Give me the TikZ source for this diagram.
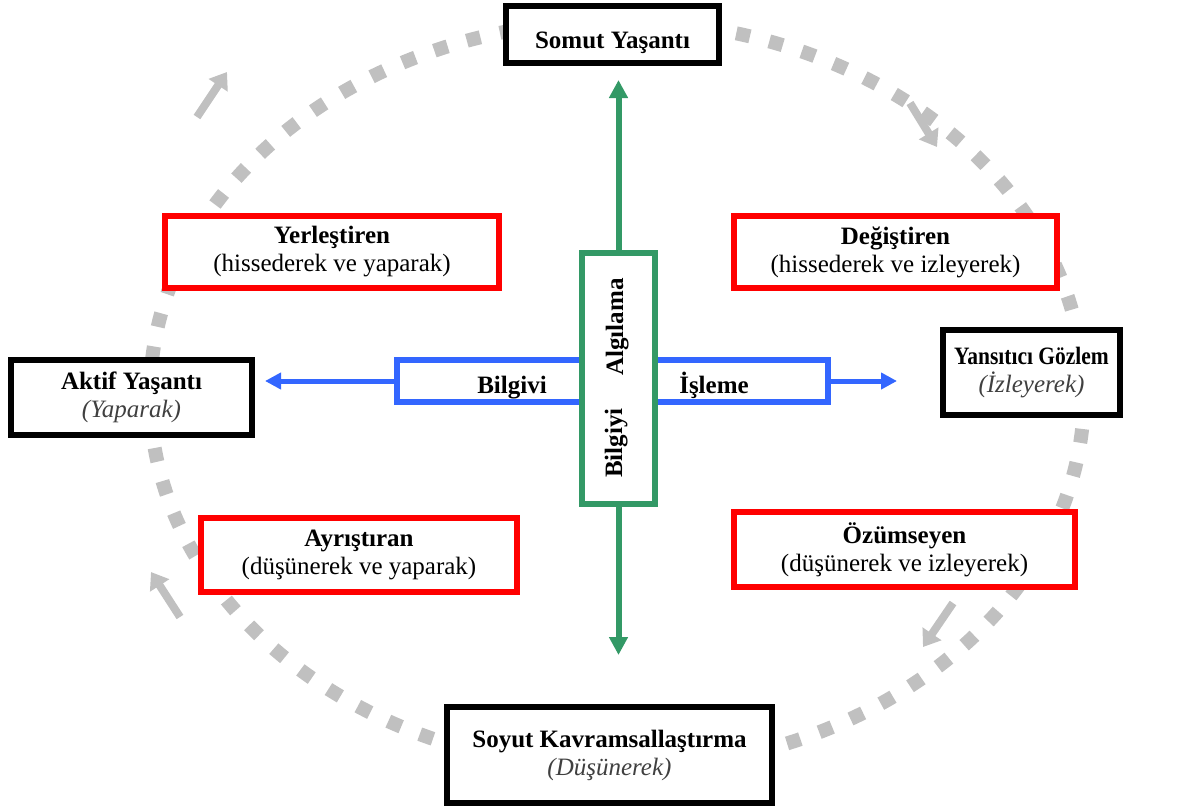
\documentclass[tikz,border=0pt]{standalone}
\usepackage{fontspec}
\setmainfont{Liberation Serif}
\usetikzlibrary{arrows.meta}
\definecolor{cgreen}{RGB}{51,153,102}
\definecolor{cblue}{RGB}{51,102,255}
\definecolor{cgray}{RGB}{192,192,192}
\definecolor{cred}{RGB}{255,0,0}
\begin{document}
\begin{tikzpicture}[x=0.5pt,y=-0.5pt,
  every node/.style={font=\fontsize{12.5}{14}\selectfont},
  blackbox/.style={draw=black,line width=3pt,fill=white,align=center,inner sep=0pt},
  redbox/.style={draw=cred,line width=3pt,fill=white,align=center,inner sep=0pt},
  gcirc/.style={draw=cgray,line width=7pt,dash pattern=on 7pt off 10pt},
  garrow/.style={draw=cgray,line width=4pt,-{Triangle[width=11pt,length=8pt]}},
  greenarrow/.style={draw=cgreen,line width=3pt,-{Triangle[width=9pt,length=9pt]}},
  bluearrow/.style={draw=cblue,line width=2.5pt,-{Triangle[width=8pt,length=8pt]}},
  bluebox/.style={draw=cblue,line width=3pt,fill=white,inner sep=0pt},
  greenbox/.style={draw=cgreen,line width=3pt,fill=white,inner sep=0pt},
  lbl/.style={font=\fontsize{12.5}{14}\selectfont\bfseries}
]
\useasboundingbox (0,0) rectangle (1178,809);
% cycle
\draw[gcirc] (617,395) ellipse [x radius=467, y radius=374];
\coordinate (ga1s) at (197,117); \coordinate (ga1e) at (227,72);
\coordinate (ga2s) at (910,103); \coordinate (ga2e) at (937,147);
\coordinate (ga3s) at (953,603); \coordinate (ga3e) at (923,647);
\coordinate (ga4s) at (180,617); \coordinate (ga4e) at (151,572);
\draw[garrow] (ga1s) -- (ga1e);
\draw[garrow] (ga2s) -- (ga2e);
\draw[garrow] (ga3s) -- (ga3e);
\draw[garrow] (ga4s) -- (ga4e);
% center boxes
\node[bluebox,minimum width=215.5pt,minimum height=21pt] (bb) at (612.5,381) {};
\node[greenbox,minimum width=36.5pt,minimum height=125.5pt] (gb) at (618.5,378.5) {};
\coordinate (gtop) at (618.5,80);
\coordinate (gbot) at (618.5,655);
\coordinate (bl) at (265,381);
\coordinate (br) at (897,381);
\draw[greenarrow] (gb.north) -- (gtop);
\draw[greenarrow] (gb.south) -- (gbot);
\draw[bluearrow] (bb.west) -- (bl);
\draw[bluearrow] (bb.east) -- (br);
\node[lbl,anchor=base] (t1) at (512,393) {Bilgivi};
\node[lbl,anchor=base] (t2) at (714,393) {İşleme};
\node[lbl,anchor=base,rotate=90] (t3) at (623,327) {Algılama};
\node[lbl,anchor=base,rotate=90] (t4) at (622,443) {Bilgiyi};
% outer boxes
\node[blackbox,minimum width=106.5pt,minimum height=28.5pt] (somut) at (612.5,34.5) {\raisebox{-4pt}[\height][\depth]{\bfseries Somut Yaşantı}};
\node[blackbox,minimum width=162.5pt,minimum height=48pt] (soyut) at (609.5,755) {\textbf{Soyut Kavramsallaştırma}\\{\color{black!75}\itshape (Düşünerek)}};
\node[blackbox,minimum width=120.5pt,minimum height=37.5pt] (aktif) at (131.5,397.5) {\textbf{Aktif Yaşantı}\\{\color{black!75}\itshape (Yaparak)}};
\node[blackbox,minimum width=88.5pt,minimum height=42.5pt] (yans) at (1031.5,372.5) {\scalebox{0.86}[1]{\bfseries Yansıtıcı Gözlem}\\{\color{black!75}\itshape (İzleyerek)}};
\node[redbox,minimum width=167pt,minimum height=36pt] (yer) at (332,252) {\textbf{Yerleştiren}\\(hissederek ve yaparak)};
\node[redbox,minimum width=161.5pt,minimum height=36pt] (deg) at (895.5,252) {\textbf{Değiştiren}\\(hissederek ve izleyerek)};
\node[redbox,minimum width=158pt,minimum height=37pt] (ayr) at (359,555) {\textbf{Ayrıştıran}\\(düşünerek ve yaparak)};
\node[redbox,minimum width=170.5pt,minimum height=37.5pt] (ozu) at (904.5,549.5) {\textbf{Özümseyen}\\(düşünerek ve izleyerek)};
\end{tikzpicture}
\end{document}
